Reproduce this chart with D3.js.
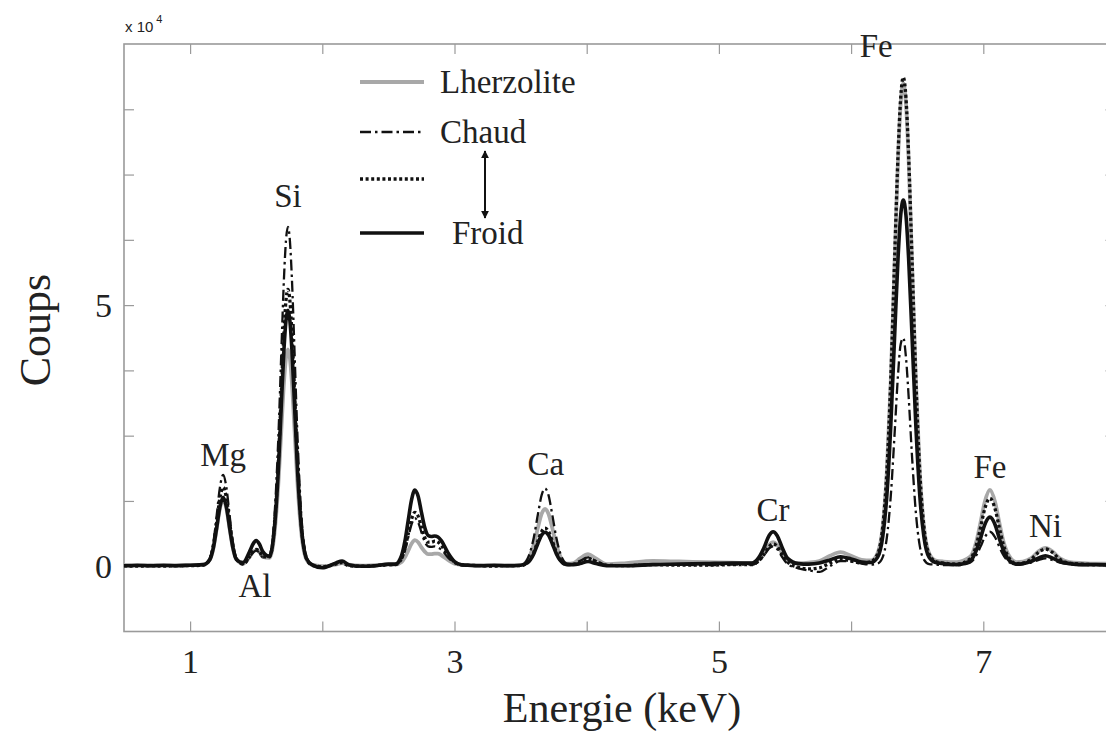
<!DOCTYPE html>
<html>
  <head>
    <meta charset="UTF-8" />
    <script src="https://cdnjs.cloudflare.com/ajax/libs/d3/7.8.5/d3.min.js"></script>
    <style>
      body { margin: 0; background: #fff; }
      text { font-family: "Liberation Serif", "Times New Roman", serif; fill: #222; }
    </style>
  </head>
  <body>
    <div id="viz"><svg style="width:1106px;height:735px;"></svg></div>
    <script>
      // energies (keV) shared by all spectra
      const energy = [
        0.5, 0.6, 0.7, 0.8, 0.9, 1.0, 1.1,
        1.15, 1.175, 1.2, 1.225, 1.25, 1.275, 1.3, 1.325, 1.35, 1.4,
        1.45, 1.475, 1.5, 1.525, 1.55,
        1.6, 1.64, 1.67, 1.69, 1.71, 1.725, 1.74, 1.755, 1.77, 1.79, 1.81, 1.84, 1.88, 1.92,
        2.0, 2.1, 2.15, 2.2, 2.3, 2.4, 2.5,
        2.55, 2.6, 2.625, 2.65, 2.675, 2.7, 2.725, 2.75, 2.775, 2.8, 2.825, 2.85, 2.875, 2.9, 2.95, 3.0, 3.05, 3.1,
        3.2, 3.3, 3.4, 3.5,
        3.55, 3.6, 3.63, 3.66, 3.685, 3.71, 3.74, 3.77, 3.8, 3.85, 3.9,
        3.95, 4.01, 4.07, 4.15,
        4.3, 4.5, 4.7, 4.9, 5.1, 5.25,
        5.3, 5.34, 5.38, 5.41, 5.44, 5.48, 5.52,
        5.6, 5.68, 5.76,
        5.84, 5.92, 6.0, 6.08,
        6.15, 6.2, 6.24, 6.27, 6.3, 6.33, 6.355, 6.375, 6.395, 6.415, 6.435, 6.46, 6.49, 6.52, 6.55, 6.59, 6.64, 6.7,
        6.8, 6.9, 6.95, 6.98, 7.01, 7.05, 7.09, 7.12, 7.15, 7.2,
        7.25, 7.3, 7.36, 7.42, 7.47, 7.52, 7.58, 7.65,
        7.75, 7.85, 8.0
      ];

      // counts, x 10^4
      const lherzolite = [
        0.02, 0.01, 0.02, 0.01, 0.02, 0.02, 0.03,
        0.13, 0.33, 0.70, 1.10, 1.28, 1.10, 0.70, 0.33, 0.13, 0.05,
        0.18, 0.27, 0.31, 0.27, 0.18,
        0.16, 0.67, 1.68, 2.61, 3.52, 3.98, 4.15, 3.98, 3.52, 2.61, 1.68, 0.67, 0.13, 0.03,
        0.0, 0.03, 0.06, 0.03, 0.01, 0.02, 0.03,
        0.03, 0.08, 0.17, 0.30, 0.43, 0.50, 0.46, 0.36, 0.28, 0.23, 0.23, 0.24, 0.24, 0.21, 0.12, 0.05, 0.03, 0.02,
        0.02, 0.01, 0.02, 0.02,
        0.11, 0.42, 0.73, 1.01, 1.10, 1.01, 0.73, 0.42, 0.19, 0.05, 0.06,
        0.15, 0.23, 0.15, 0.04,
        0.06, 0.10, 0.09, 0.08, 0.07, 0.06,
        0.13, 0.25, 0.41, 0.46, 0.41, 0.24, 0.10,
        0.06, 0.07, 0.10,
        0.20, 0.27, 0.20, 0.12,
        0.11, 0.25, 0.78, 1.79, 3.55, 5.89, 7.80, 8.86, 9.25, 8.86, 7.80, 5.89, 3.55, 1.79, 0.78, 0.25, 0.11, 0.09,
        0.08, 0.18, 0.50, 0.85, 1.22, 1.46, 1.22, 0.85, 0.50, 0.18,
        0.08, 0.09, 0.15, 0.29, 0.35, 0.29, 0.15, 0.08,
        0.06, 0.05, 0.05
      ];
      const chaud = [
        0.0, 0.01, 0.0, 0.01, 0.0, 0.01, 0.02,
        0.16, 0.44, 0.95, 1.50, 1.75, 1.50, 0.95, 0.44, 0.16, 0.04,
        0.17, 0.26, 0.30, 0.26, 0.17,
        0.21, 1.03, 2.63, 4.10, 5.51, 6.23, 6.50, 6.23, 5.51, 4.10, 2.63, 1.03, 0.19, 0.03,
        -0.02, 0.05, 0.08, 0.02, -0.01, 0.0, 0.02,
        0.03, 0.13, 0.30, 0.55, 0.80, 0.92, 0.84, 0.65, 0.47, 0.38, 0.37, 0.38, 0.36, 0.32, 0.17, 0.06, 0.02, 0.01,
        0.0, 0.01, 0.0, 0.01,
        0.13, 0.55, 0.98, 1.37, 1.49, 1.37, 0.98, 0.55, 0.25, 0.05, 0.03,
        0.10, 0.17, 0.10, 0.02,
        0.02, 0.04, 0.03, 0.02, 0.03, 0.03,
        0.09, 0.20, 0.34, 0.38, 0.33, 0.17, 0.04,
        -0.04, -0.08, -0.11,
        0.0, 0.10, 0.09, 0.05,
        0.03, 0.05, 0.18, 0.54, 1.34, 2.58, 3.67, 4.25, 4.37, 4.00, 3.26, 2.14, 1.02, 0.38, 0.13, 0.04, 0.03, 0.02,
        0.02, 0.07, 0.22, 0.38, 0.55, 0.66, 0.55, 0.38, 0.22, 0.07,
        0.03, 0.04, 0.07, 0.12, 0.15, 0.12, 0.07, 0.04,
        0.02, 0.02, 0.02
      ];
      const intermediaire = [
        0.01, 0.0, 0.01, 0.0, 0.01, 0.01, 0.02,
        0.14, 0.38, 0.82, 1.30, 1.51, 1.30, 0.82, 0.38, 0.14, 0.04,
        0.18, 0.28, 0.32, 0.28, 0.18,
        0.18, 0.84, 2.14, 3.34, 4.49, 5.08, 5.30, 5.08, 4.49, 3.34, 2.14, 0.84, 0.15, 0.02,
        -0.01, 0.04, 0.07, 0.01, 0.0, 0.01, 0.03,
        0.03, 0.15, 0.34, 0.62, 0.90, 1.03, 0.96, 0.75, 0.55, 0.46, 0.46, 0.48, 0.46, 0.40, 0.22, 0.08, 0.03, 0.02,
        0.01, 0.0, 0.01, 0.01,
        0.07, 0.27, 0.48, 0.67, 0.73, 0.67, 0.48, 0.27, 0.12, 0.03, 0.04,
        0.09, 0.15, 0.09, 0.02,
        0.01, 0.03, 0.02, 0.02, 0.03, 0.03,
        0.10, 0.22, 0.38, 0.43, 0.38, 0.22, 0.08,
        -0.02, -0.05, -0.03,
        0.06, 0.14, 0.10, 0.06,
        0.09, 0.23, 0.77, 1.79, 3.57, 5.95, 7.88, 8.97, 9.36, 8.97, 7.88, 5.95, 3.57, 1.79, 0.77, 0.23, 0.09, 0.06,
        0.04, 0.14, 0.43, 0.75, 1.09, 1.30, 1.09, 0.75, 0.43, 0.14,
        0.05, 0.06, 0.13, 0.27, 0.33, 0.27, 0.13, 0.06,
        0.04, 0.03, 0.03
      ];
      const froid = [
        0.01, 0.02, 0.01, 0.02, 0.01, 0.02, 0.03,
        0.13, 0.34, 0.72, 1.13, 1.32, 1.13, 0.72, 0.34, 0.13, 0.07,
        0.28, 0.42, 0.49, 0.42, 0.28,
        0.19, 0.79, 1.98, 3.09, 4.15, 4.70, 4.90, 4.70, 4.15, 3.09, 1.98, 0.79, 0.15, 0.03,
        -0.03, 0.06, 0.10, 0.03, 0.0, 0.01, 0.04,
        0.04, 0.21, 0.48, 0.88, 1.27, 1.46, 1.34, 1.03, 0.74, 0.59, 0.57, 0.58, 0.56, 0.49, 0.26, 0.09, 0.03, 0.02,
        0.01, 0.02, 0.01, 0.02,
        0.06, 0.24, 0.43, 0.60, 0.65, 0.60, 0.43, 0.24, 0.11, 0.03, 0.03,
        0.05, 0.09, 0.05, 0.01,
        0.01, 0.03, 0.04, 0.05, 0.06, 0.06,
        0.16, 0.35, 0.59, 0.66, 0.59, 0.35, 0.15,
        0.05, 0.04, 0.06,
        0.12, 0.18, 0.14, 0.08,
        0.07, 0.17, 0.58, 1.34, 2.68, 4.46, 5.90, 6.72, 7.01, 6.72, 5.90, 4.46, 2.68, 1.34, 0.58, 0.17, 0.07, 0.05,
        0.03, 0.10, 0.32, 0.54, 0.79, 0.94, 0.79, 0.54, 0.32, 0.10,
        0.04, 0.05, 0.09, 0.16, 0.20, 0.16, 0.09, 0.05,
        0.03, 0.03, 0.02
      ];

      // element labels
      const peakNames = ["Mg", "Al", "Si", "Ca", "Cr", "Fe", "Fe", "Ni"];
      const peakEnergy = [1.25, 1.49, 1.74, 3.69, 5.41, 6.19, 7.05, 7.47];
      const peakLabelY = [1.92, -0.59, 6.88, 1.74, 0.86, 9.75, 1.69, 0.56];

      const xTicks = [1, 2, 3, 4, 5, 6, 7, 8];
      const yTicks = [0, 1.25, 2.5, 3.75, 5, 6.25, 7.5, 8.75];
      const legendNames = ["Lherzolite", "Chaud", "", "Froid"];

      const svg = d3.select("svg");
      const axisGray = "#9a9a9a";

      const xScale = d3.scaleLinear().domain([0.5, 8]).range([124, 1115.5]),
        yScale = d3.scaleLinear().domain([-1.25, 10]).range([631.5, 44]);

      // axes: ticks inside the box on all four sides
      const styleAxis = g => {
        g.select(".domain").remove();
        g.selectAll(".tick line").attr("stroke", axisGray).attr("stroke-width", 1.2);
        g.selectAll(".tick text")
          .style("font-family", '"Liberation Serif", serif')
          .style("font-size", "34px")
          .attr("fill", "#222");
      };

      svg.append("g")
        .attr("transform", "translate(0,631.5)")
        .call(d3.axisBottom(xScale).tickValues(xTicks).tickSizeInner(-10).tickSizeOuter(0)
          .tickPadding(17).tickFormat(d => (d % 2 === 1 ? d : "")))
        .call(styleAxis);
      svg.append("g")
        .attr("transform", "translate(0,44)")
        .call(d3.axisTop(xScale).tickValues(xTicks).tickSizeInner(-10).tickSizeOuter(0).tickFormat(""))
        .call(styleAxis);
      svg.append("g")
        .attr("transform", "translate(124,0)")
        .call(d3.axisLeft(yScale).tickValues(yTicks).tickSizeInner(-10).tickSizeOuter(0)
          .tickPadding(12).tickFormat(d => (d === 0 || d === 5 ? d : "")))
        .call(styleAxis);
      svg.append("g")
        .attr("transform", "translate(1115.5,0)")
        .call(d3.axisRight(yScale).tickValues(yTicks).tickSizeInner(-10).tickSizeOuter(0).tickFormat(""))
        .call(styleAxis);

      svg.append("rect")
        .attr("x", xScale(0.5))
        .attr("y", yScale(10))
        .attr("width", xScale(8) - xScale(0.5))
        .attr("height", yScale(-1.25) - yScale(10))
        .attr("fill", "none")
        .attr("stroke", axisGray)
        .attr("stroke-width", 1.6);

      // exponent
      const expo = svg.append("text")
        .attr("x", 125)
        .attr("y", 32)
        .style("font-family", '"Liberation Sans", Arial, sans-serif')
        .style("font-size", "15px")
        .attr("fill", "#333");
      expo.append("tspan").text("x 10");
      expo.append("tspan").attr("dx", 3).attr("dy", -9).style("font-size", "11px").text("4");

      // spectra
      const series = [
        { values: lherzolite, color: "#a8a8a8", width: 3.8, dash: null },
        { values: froid, color: "#111", width: 3.6, dash: null },
        { values: intermediaire, color: "#111", width: 3.3, dash: "3,2.6" },
        { values: chaud, color: "#111", width: 2.3, dash: "11,4,2.5,4" }
      ];

      const line = d3.line()
        .x(d => xScale(d[0]))
        .y(d => yScale(d[1]))
        .curve(d3.curveMonotoneX);

      series.forEach(s => {
        svg.append("path")
          .attr("d", line(energy.map((e, i) => [e, s.values[i]])))
          .attr("fill", "none")
          .attr("stroke", s.color)
          .attr("stroke-width", s.width)
          .attr("stroke-linejoin", "round")
          .attr("stroke-dasharray", s.dash);
      });

      // element labels
      svg.selectAll("text.peak")
        .data(peakNames)
        .enter()
        .append("text")
        .attr("class", "peak")
        .attr("x", (d, i) => xScale(peakEnergy[i]))
        .attr("y", (d, i) => yScale(peakLabelY[i]))
        .attr("text-anchor", "middle")
        .style("font-size", "33px")
        .text(d => d);

      // legend
      const legendY = [82, 132, 179, 233];
      const legendStyle = [series[0], series[3], series[2], series[1]];
      legendStyle.forEach((s, i) => {
        svg.append("line")
          .attr("x1", 360).attr("x2", 424)
          .attr("y1", legendY[i]).attr("y2", legendY[i])
          .attr("stroke", s.color)
          .attr("stroke-width", s.width)
          .attr("stroke-dasharray", s.dash);
        svg.append("text")
          .attr("x", i === 3 ? 452 : 440)
          .attr("y", legendY[i] + 11)
          .style("font-size", "33px")
          .text(legendNames[i]);
      });

      // arrow between Chaud and Froid
      const defs = svg.append("defs");
      defs.append("marker")
        .attr("id", "head")
        .attr("viewBox", "0 0 10 10")
        .attr("refX", 9).attr("refY", 5)
        .attr("markerWidth", 4).attr("markerHeight", 5)
        .attr("orient", "auto-start-reverse")
        .append("path")
        .attr("d", "M0,0 L10,5 L0,10 z")
        .attr("fill", "#111");
      svg.append("line")
        .attr("x1", 485).attr("x2", 485)
        .attr("y1", 151).attr("y2", 218)
        .attr("stroke", "#111")
        .attr("stroke-width", 2)
        .attr("marker-start", "url(#head)")
        .attr("marker-end", "url(#head)");

      // axis titles
      svg.append("text")
        .attr("x", 622)
        .attr("y", 722)
        .attr("text-anchor", "middle")
        .style("font-size", "42px")
        .text("Energie (keV)");
      svg.append("text")
        .attr("transform", "translate(50,330) rotate(-90)")
        .attr("text-anchor", "middle")
        .style("font-size", "44px")
        .text("Coups");
    </script>
  </body>
</html>
